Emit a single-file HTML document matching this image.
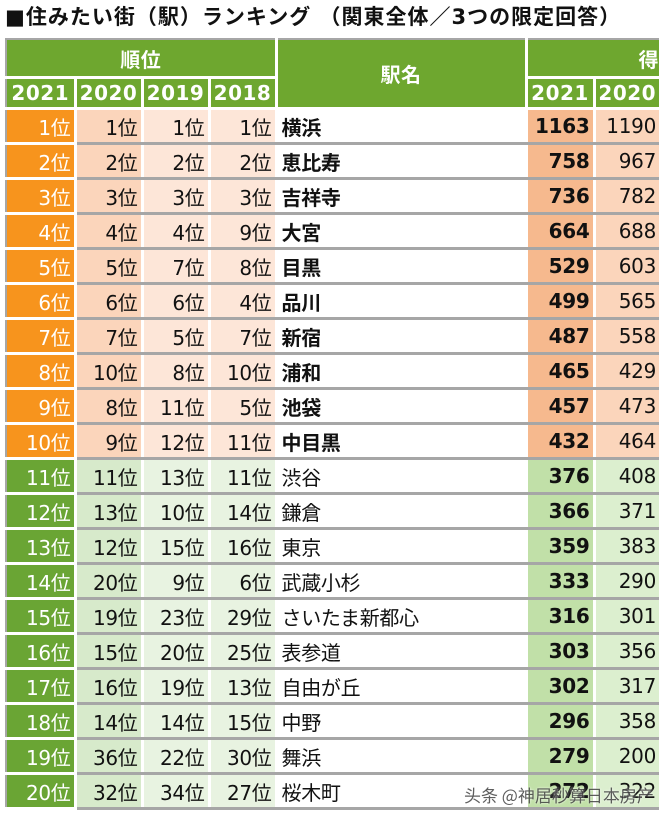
<!DOCTYPE html>
<html><head><meta charset="utf-8"><style>
body{margin:0;width:670px;height:817px;background:#fff;position:relative;overflow:hidden;font-family:"DejaVu Sans","Noto Sans CJK JP",sans-serif;}
.title{position:absolute;left:5px;top:1px;font-size:21px;font-weight:bold;color:#111;white-space:nowrap;letter-spacing:1px;font-family:"DejaVu Sans","Noto Sans CJK JP",sans-serif}
table{position:absolute;left:5px;top:38px;border-collapse:collapse;table-layout:fixed;border:2px solid #a6a6a6;border-right:none}
td{padding:0 3px 0 0;height:32px;font-size:20px;text-align:right;border-right:3px solid #fff;border-bottom:3px solid #a6a6a6;color:#111;white-space:nowrap;overflow:hidden;letter-spacing:-0.3px}
tr.h td{background:#6ea72f;color:#fff;font-weight:bold;text-align:center;border-bottom:3px solid #fff;padding:0;letter-spacing:0.5px}
tr.h1 td{height:36px}
tr.h2 td{height:28px}
td.r{color:#fff}
tr.o td.r{background:#f7941d;border-bottom-color:#fff}
tr.o td.a{background:#fbd5bb}
tr.o td.b{background:#fde6d8}
tr.o td.n{font-weight:bold;text-align:left;padding-left:4px;background:#fff}
tr.o td.s{background:#f6b98e;font-weight:bold}
tr.o td.t{background:#fbd5bb}
tr.g td.r{background:#6aa534;border-bottom-color:#fff}
tr.g td.a{background:#d7eacb}
tr.g td.b{background:#e8f3e1}
tr.g td.n{text-align:left;padding-left:4px;background:#fff}
tr.g td.s{background:#c1e0a8;font-weight:bold}
tr.g td.t{background:#dcefcf}
td.last{border-right:none}
.wm{position:absolute;left:464px;top:782px;font-size:17px;color:rgba(40,40,40,0.75);white-space:nowrap;text-shadow:0 0 2px #fff;font-family:"Noto Sans CJK SC",sans-serif}
</style></head><body>
<div class="title">■住みたい街（駅）ランキング （関東全体／3つの限定回答）</div>
<table>
<colgroup><col style="width:69px"><col style="width:67px"><col style="width:67px"><col style="width:67px"><col style="width:250px"><col style="width:68px"><col style="width:65px"></colgroup>
<tr class="h h1"><td colspan="4">順位</td><td rowspan="2">駅名</td><td colspan="2" class="last" style="text-align:right">得</td></tr>
<tr class="h h2"><td>2021</td><td>2020</td><td>2019</td><td>2018</td><td>2021</td><td class="last">2020</td></tr>
<tr class="o"><td class="r">1位</td><td class="a">1位</td><td class="b">1位</td><td class="b">1位</td><td class="n">横浜</td><td class="s">1163</td><td class="t last">1190</td></tr>
<tr class="o"><td class="r">2位</td><td class="a">2位</td><td class="b">2位</td><td class="b">2位</td><td class="n">恵比寿</td><td class="s">758</td><td class="t last">967</td></tr>
<tr class="o"><td class="r">3位</td><td class="a">3位</td><td class="b">3位</td><td class="b">3位</td><td class="n">吉祥寺</td><td class="s">736</td><td class="t last">782</td></tr>
<tr class="o"><td class="r">4位</td><td class="a">4位</td><td class="b">4位</td><td class="b">9位</td><td class="n">大宮</td><td class="s">664</td><td class="t last">688</td></tr>
<tr class="o"><td class="r">5位</td><td class="a">5位</td><td class="b">7位</td><td class="b">8位</td><td class="n">目黒</td><td class="s">529</td><td class="t last">603</td></tr>
<tr class="o"><td class="r">6位</td><td class="a">6位</td><td class="b">6位</td><td class="b">4位</td><td class="n">品川</td><td class="s">499</td><td class="t last">565</td></tr>
<tr class="o"><td class="r">7位</td><td class="a">7位</td><td class="b">5位</td><td class="b">7位</td><td class="n">新宿</td><td class="s">487</td><td class="t last">558</td></tr>
<tr class="o"><td class="r">8位</td><td class="a">10位</td><td class="b">8位</td><td class="b">10位</td><td class="n">浦和</td><td class="s">465</td><td class="t last">429</td></tr>
<tr class="o"><td class="r">9位</td><td class="a">8位</td><td class="b">11位</td><td class="b">5位</td><td class="n">池袋</td><td class="s">457</td><td class="t last">473</td></tr>
<tr class="o"><td class="r">10位</td><td class="a">9位</td><td class="b">12位</td><td class="b">11位</td><td class="n">中目黒</td><td class="s">432</td><td class="t last">464</td></tr>
<tr class="g"><td class="r">11位</td><td class="a">11位</td><td class="b">13位</td><td class="b">11位</td><td class="n">渋谷</td><td class="s">376</td><td class="t last">408</td></tr>
<tr class="g"><td class="r">12位</td><td class="a">13位</td><td class="b">10位</td><td class="b">14位</td><td class="n">鎌倉</td><td class="s">366</td><td class="t last">371</td></tr>
<tr class="g"><td class="r">13位</td><td class="a">12位</td><td class="b">15位</td><td class="b">16位</td><td class="n">東京</td><td class="s">359</td><td class="t last">383</td></tr>
<tr class="g"><td class="r">14位</td><td class="a">20位</td><td class="b">9位</td><td class="b">6位</td><td class="n">武蔵小杉</td><td class="s">333</td><td class="t last">290</td></tr>
<tr class="g"><td class="r">15位</td><td class="a">19位</td><td class="b">23位</td><td class="b">29位</td><td class="n">さいたま新都心</td><td class="s">316</td><td class="t last">301</td></tr>
<tr class="g"><td class="r">16位</td><td class="a">15位</td><td class="b">20位</td><td class="b">25位</td><td class="n">表参道</td><td class="s">303</td><td class="t last">356</td></tr>
<tr class="g"><td class="r">17位</td><td class="a">16位</td><td class="b">19位</td><td class="b">13位</td><td class="n">自由が丘</td><td class="s">302</td><td class="t last">317</td></tr>
<tr class="g"><td class="r">18位</td><td class="a">14位</td><td class="b">14位</td><td class="b">15位</td><td class="n">中野</td><td class="s">296</td><td class="t last">358</td></tr>
<tr class="g"><td class="r">19位</td><td class="a">36位</td><td class="b">22位</td><td class="b">30位</td><td class="n">舞浜</td><td class="s">279</td><td class="t last">200</td></tr>
<tr class="g"><td class="r">20位</td><td class="a">32位</td><td class="b">34位</td><td class="b">27位</td><td class="n">桜木町</td><td class="s">272</td><td class="t last">322</td></tr>
</table>
<div class="wm">头条 @神居秒算日本房产</div>
</body></html>
